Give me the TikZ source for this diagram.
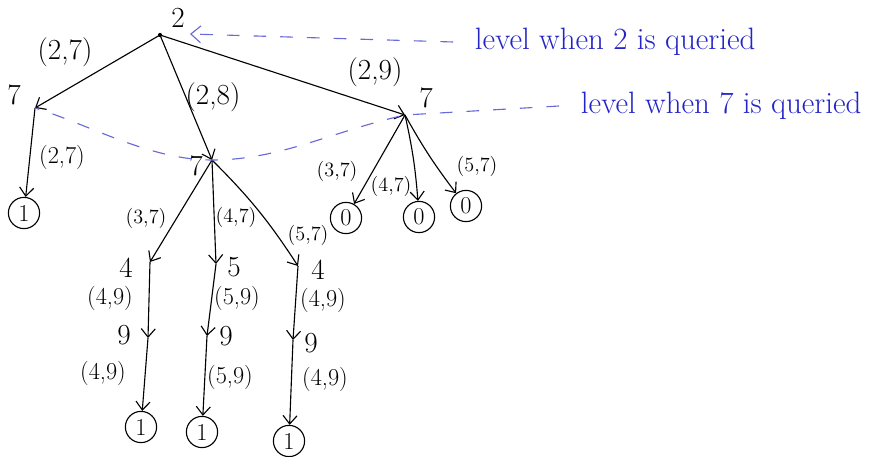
\documentclass[tikz,border=0pt]{standalone}
\usetikzlibrary{arrows.meta,positioning}
\definecolor{penblue}{RGB}{35,35,200}
\definecolor{dashblue}{RGB}{105,105,215}

\begin{document}
\begin{tikzpicture}[x=0.025cm,y=-0.025cm, every node/.style={font=\huge},
    key/.style={inner sep=1pt},
    leaf/.style={draw,circle,thick,minimum size=0.78cm,inner sep=0pt,font=\LARGE},
    ptr/.style={thick,-{Straight Barb[length=6pt,width=10pt]}},
    pair/.style={font=\huge},
    midpair/.style={font=\LARGE},
    smallpair/.style={font=\Large},
    note/.style={text=penblue,font=\fontsize{22}{26}\selectfont,anchor=west},
    lvlline/.style={dashblue,thick,dash pattern=on 9pt off 10pt}]
    \useasboundingbox (0,0) rectangle (872,457);
    % keys
    \node[key] (k2) at (178,18) {2};
    \node[key] (k7a) at (14,95) {7};
    \node[key] (k7b) at (196,166) {7};
    \node[key] (k7c) at (426,98) {7};
    \node[key] (k4a) at (126,268) {4};
    \node[key] (k5) at (234,267) {5};
    \node[key] (k4c) at (318,270) {4};
    \node[key] (k9a) at (124,335) {9};
    \node[key] (k9b) at (226,336) {9};
    \node[key] (k9c) at (311,343) {9};
    % points beside the keys
    \coordinate (p2) at (160,35);
    \coordinate (p7a) at (35,108);
    \coordinate (p7b) at (212,160);
    \coordinate (p7c) at (405,115);
    \coordinate (p4a) at (150,262);
    \coordinate (p5) at (216,264);
    \coordinate (p4c) at (298,266);
    \coordinate (p9a) at (148,338);
    \coordinate (p9b) at (207,336);
    \coordinate (p9c) at (293,340);
    \fill (p2) circle (1.5pt);
    % leaves
    \node[leaf] (l1) at (24,213) {1};
    \node[leaf] (l0a) at (346,218) {0};
    \node[leaf] (l0b) at (419,217) {0};
    \node[leaf] (l0c) at (466,206) {0};
    \node[leaf] (l1a) at (141,427) {1};
    \node[leaf] (l1b) at (202,432) {1};
    \node[leaf] (l1c) at (289,441) {1};
    % edges
    \draw[ptr] (p2) -- (p7a);
    \draw[ptr] (p2) -- (p7b);
    \draw[ptr] (p2) -- (p7c);
    \draw[ptr] (p7a) -- (l1);
    \draw[ptr] (p7c) -- (l0a);
    \draw[ptr] (p7c) to[bend left=4] (l0b);
    \draw[ptr] (p7c) to[bend right=4] (l0c);
    \draw[ptr] (p7b) -- (p4a);
    \draw[ptr] (p7b) -- (p5);
    \draw[ptr] (p7b) to[bend left=6] (p4c);
    \draw[ptr] (p4a) -- (p9a);
    \draw[ptr] (p5) -- (p9b);
    \draw[ptr] (p4c) -- (p9c);
    \draw[ptr] (p9a) -- (l1a);
    \draw[ptr] (p9b) -- (l1b);
    \draw[ptr] (p9c) -- (l1c);
    % edge labels
    \node[pair] (e27) at (65,52) {(2,7)};
    \node[pair] (e28) at (213,97) {(2,8)};
    \node[pair] (e29) at (375,72) {(2,9)};
    \node[midpair] (e27b) at (62,157) {(2,7)};
    \node[smallpair] (e37c) at (337,171) {(3,7)};
    \node[smallpair] (e47c) at (391,186) {(4,7)};
    \node[smallpair] (e57c) at (477,166) {(5,7)};
    \node[smallpair] (e37b) at (146,218) {(3,7)};
    \node[smallpair] (e47b) at (236,217) {(4,7)};
    \node[smallpair] (e57b) at (308,235) {(5,7)};
    \node[midpair] (e49a) at (110,298) {(4,9)};
    \node[midpair] (e59b) at (237,298) {(5,9)};
    \node[midpair] (e49c) at (323,300) {(4,9)};
    \node[midpair] (e49d) at (103,373) {(4,9)};
    \node[midpair] (e59e) at (230,377) {(5,9)};
    \node[midpair] (e49f) at (325,379) {(4,9)};
    % levels
    \node[note] (n2) at (470,42) {level when 2 is queried};
    \node[note] (n7) at (576,106) {level when 7 is queried};
    \coordinate (q2) at (190,34);
    \draw[lvlline,-{Straight Barb[length=7pt,width=12pt]}] ([xshift=-12pt]n2.west) -- (q2);
    \draw[lvlline] ([xshift=-12pt]n7.west) -- (p7c) .. controls (330,132) and (280,160) .. (p7b)
        .. controls (150,160) and (90,125) .. (p7a);
\end{tikzpicture}
\end{document}
